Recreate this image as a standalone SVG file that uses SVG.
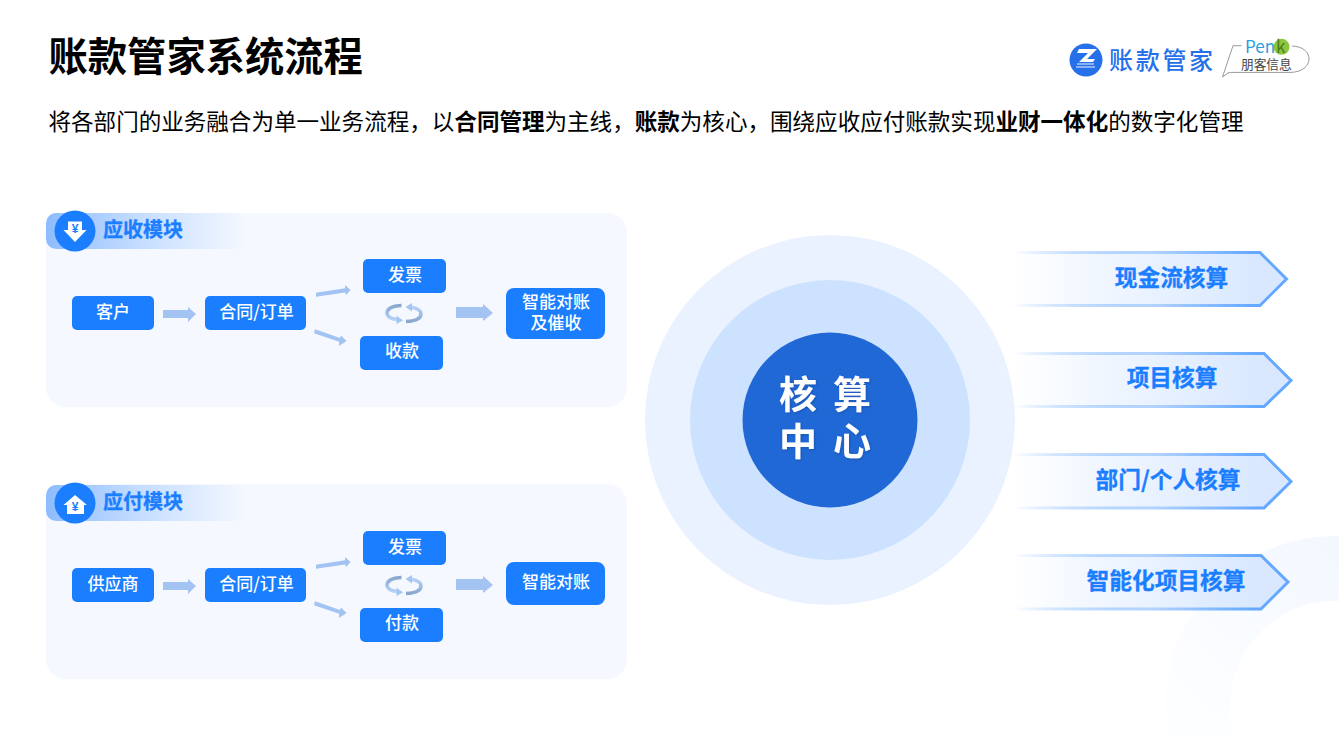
<svg xmlns="http://www.w3.org/2000/svg" width="1339" height="735" viewBox="0 0 1339 735">
<style>
text{font-family:"Noto Sans CJK SC","Noto Sans",sans-serif}
.panel{fill:#f5f8ff}
.box{fill:#1a7eff}
.bt{fill:#fff;font-size:17px;font-weight:500;text-anchor:middle}
.mod{fill:#1a7eff;font-size:20px;font-weight:700;stroke:#1a7eff;stroke-width:.3}
.arr{fill:#a3c3f3}
.chev{fill:url(#cf);stroke:url(#cs);stroke-width:3}
.ct{fill:#1a7eff;font-size:22.7px;font-weight:700;text-anchor:middle;stroke:#1a7eff;stroke-width:.3}
.core{fill:#fff;font-size:38px;font-weight:700;text-anchor:middle}
.yen{fill:#1a7eff;font-size:12px;font-weight:700;text-anchor:middle;font-family:"Liberation Sans",sans-serif}
.cyc{fill:none;stroke-width:3.5}
</style>
<defs>
<linearGradient id="hd" x1="0" x2="1" y1="0" y2="0"><stop offset="0" stop-color="#8dbcfd"/><stop offset=".45" stop-color="#c3dcff"/><stop offset="1" stop-color="#f5f8ff"/></linearGradient>
<linearGradient id="cf" x1="0" x2="1" y1="0" y2="0"><stop offset="0" stop-color="#d6e7ff" stop-opacity="0"/><stop offset=".9" stop-color="#d9e8ff"/><stop offset="1" stop-color="#d9e8ff"/></linearGradient>
<linearGradient id="cs" x1="0" x2="1" y1="0" y2="0"><stop offset="0" stop-color="#64a8ff" stop-opacity="0"/><stop offset=".5" stop-color="#b4d4ff"/><stop offset=".88" stop-color="#64a8ff"/><stop offset="1" stop-color="#64a8ff"/></linearGradient>
<linearGradient id="rg" gradientUnits="userSpaceOnUse" x1="1190" y1="720" x2="1339" y2="540"><stop offset="0" stop-color="#fdfeff"/><stop offset="1" stop-color="#f3f8ff"/></linearGradient>
<linearGradient id="c1" x1="0" x2="0" y1="0" y2="1"><stop offset="0" stop-color="#8aa6cf"/><stop offset="1" stop-color="#b6d2f8"/></linearGradient>
<linearGradient id="c2" x1="0" x2="0" y1="1" y2="0"><stop offset="0" stop-color="#8aa6cf"/><stop offset="1" stop-color="#b6d2f8"/></linearGradient>
<filter id="sh" x="-20%" y="-20%" width="140%" height="140%"><feDropShadow dx="1" dy="1" stdDeviation="1" flood-color="#0b3f8f" flood-opacity=".5"/></filter>
<g id="cycle">
<path class="cyc" stroke="url(#c1)" d="M401.500 305.500C392 305.800 387 309 387 313C387 316.500 391 319 398 319.800"/>
<path fill="#a8c6f2" d="M396.500 315.500L403 320.500L396.500 324Z"/>
<path class="cyc" stroke="url(#c2)" d="M406 321.500C416 321 421 318 421 314C421 310.500 417 308 411 307.200"/>
<path fill="#a8c6f2" d="M412 303L405.500 307L412 311.500Z"/>
</g>
</defs>
<rect width="1339" height="735" fill="#fff"/>
<circle id="deco" cx="1335" cy="706" r="137.500" fill="none" stroke="url(#rg)" stroke-width="65"/>
<g id="header">
<text x="48.500" y="71" font-size="39.300" font-weight="700" fill="#000">账款管家系统流程</text>
<text x="48.500" y="129.500" font-size="22.550" fill="#000">将各部门的业务融合为单一业务流程，以<tspan font-weight="700">合同管理</tspan>为主线，<tspan font-weight="700">账款</tspan>为核心，围绕应收应付账款实现<tspan font-weight="700">业财一体化</tspan>的数字化管理</text>
</g>
<g id="logo">
<circle cx="1086" cy="60" r="16.500" fill="#2670ea"/>
<path d="M1079 49H1097L1087 59H1095L1093 62H1079L1088 53H1077Z" fill="#fff"/>
<path d="M1077 64H1094M1076 67H1095" stroke="#a9c8f7" stroke-width="1.500" fill="none"/>
<text x="1109" y="69" font-size="24" font-weight="500" letter-spacing="2.700" fill="#2670ea">账款管家</text>
<path d="M1241.500 45.700H1233L1222.500 77L1228 73C1229 72.500 1231 72.400 1234 72.400H1290C1302 72.400 1309 66 1309 59C1309 52 1303 46.500 1292 46" fill="none" stroke="#999" stroke-width="1"/>
<circle cx="1281.500" cy="46.800" r="8" fill="#8cc63f"/>
<text x="1245" y="53" font-size="17" fill="#2a9fe0">Pen<tspan fill="#4d7d1d" dx="1">k</tspan></text>
<text x="1241" y="68.500" font-size="12.700" fill="#444">朋客信息</text>
</g>
<g id="module-receivable">
<rect class="panel" x="46" y="213" width="581" height="194" rx="20"/>
<rect x="46" y="213" width="200" height="36" rx="10" fill="url(#hd)"/>
<circle cx="75" cy="231" r="20.500" fill="#1a7eff"/>
<path d="M68 221.500H82V230H86.500L75 242L63.500 230H68Z" fill="#fff"/>
<text class="yen" x="75" y="233">¥</text>
<text class="mod" x="103" y="236.500">应收模块</text>
</g>
<g id="module-payable">
<rect class="panel" x="46" y="484" width="581" height="195" rx="20"/>
<rect x="46" y="485" width="200" height="36" rx="10" fill="url(#hd)"/>
<circle cx="75" cy="503" r="20.500" fill="#1a7eff"/>
<path d="M75 495L87 505H84V514H67V505H63.500Z" fill="#fff"/>
<text class="yen" x="75" y="511">¥</text>
<text class="mod" x="103" y="508.500">应付模块</text>
</g>
<g id="connectors">
<path class="arr" d="M163 310H188V307L196 314L188 322V318H163Z"/>
<path class="arr" d="M316 292.700L345 288.300L345 285L350.500 290L346 295L345 292.500L316 296.800Z"/>
<path class="arr" d="M315 329.300L340 338L341 335.500L346.500 341L339 346L339.300 341.700L314 333.300Z"/>
<path class="arr" d="M456 307H483V304L493 313L483 321V318H456Z"/>
<use href="#cycle"/>
<path class="arr" d="M163 582H188V579L196 586L188 594V590H163Z"/>
<path class="arr" d="M316 564.700L345 560.300L345 557L350.500 562L346 567L345 564.500L316 568.800Z"/>
<path class="arr" d="M315 601.300L340 610L341 607.500L346.500 613L339 618L339.300 613.700L314 605.300Z"/>
<path class="arr" d="M456 579H483V576L493 585L483 593V590H456Z"/>
<use href="#cycle" y="272"/>
</g>
<g id="n-customer"><rect class="box" x="72" y="296" width="82" height="34" rx="5"/><text class="bt" x="113" y="318">客户</text></g>
<g id="n-contract1"><rect class="box" x="205" y="296" width="101" height="34" rx="5"/><text class="bt" x="256.500" y="318">合同/订单</text></g>
<g id="n-invoice1"><rect class="box" x="363" y="259" width="83" height="34" rx="5"/><text class="bt" x="405" y="281">发票</text></g>
<g id="n-collect"><rect class="box" x="360" y="336" width="83" height="34" rx="5"/><text class="bt" x="402" y="357">收款</text></g>
<g id="n-reconcile1"><rect class="box" x="506" y="288" width="99" height="51" rx="8"/><text class="bt" x="556" y="308">智能对账</text><text class="bt" x="556" y="329">及催收</text></g>
<g id="n-supplier"><rect class="box" x="72" y="568" width="82" height="34" rx="5"/><text class="bt" x="113" y="590">供应商</text></g>
<g id="n-contract2"><rect class="box" x="205" y="568" width="101" height="34" rx="5"/><text class="bt" x="256.500" y="590">合同/订单</text></g>
<g id="n-invoice2"><rect class="box" x="363" y="531" width="83" height="34" rx="5"/><text class="bt" x="405" y="553">发票</text></g>
<g id="n-pay"><rect class="box" x="360" y="608" width="83" height="34" rx="5"/><text class="bt" x="402" y="629">付款</text></g>
<g id="n-reconcile2"><rect class="box" x="506" y="562" width="99" height="43" rx="8"/><text class="bt" x="556" y="588">智能对账</text></g>
<g id="n-core">
<circle cx="830" cy="420" r="185" fill="#e9f2fe"/>
<circle cx="830" cy="420" r="140" fill="#cce2ff"/>
<circle cx="830" cy="420" r="87.500" fill="#2068d6"/>
<g filter="url(#sh)"><text class="core" x="798" y="408">核</text><text class="core" x="852" y="408">算</text><text class="core" x="798" y="454.500">中</text><text class="core" x="852" y="454.500">心</text></g>
</g>
<g id="n-cash"><path class="chev" d="M1012 252.500H1260L1286.500 279L1260 305.500H1012"/><text class="ct" x="1171.500" y="286">现金流核算</text></g>
<g id="n-project"><path class="chev" d="M1012 353.500H1264L1291 380.500L1264 406.500H1012"/><text class="ct" x="1172" y="386">项目核算</text></g>
<g id="n-dept"><path class="chev" d="M1012 454.500H1264L1291 481.500L1264 508H1012"/><text class="ct" x="1168" y="488">部门/个人核算</text></g>
<g id="n-smart"><path class="chev" d="M1012 555.500H1261L1288 582L1261 609H1012"/><text class="ct" x="1166" y="589">智能化项目核算</text></g>
</svg>
